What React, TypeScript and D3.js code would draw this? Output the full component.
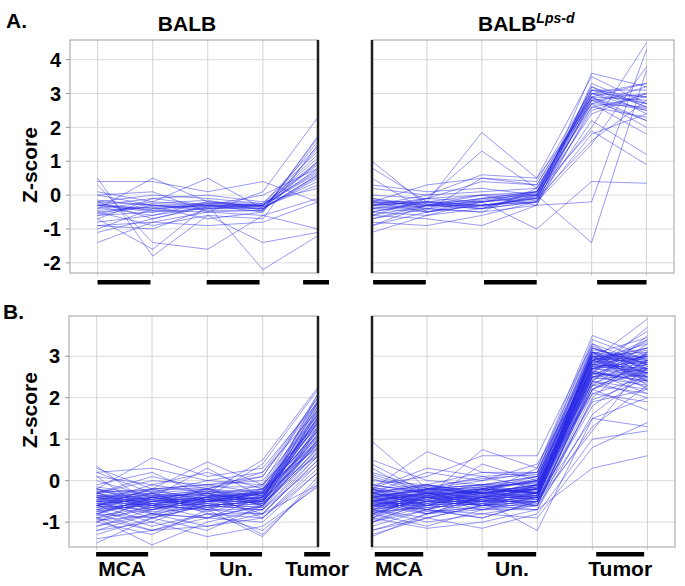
import React from "react";
import * as d3 from "d3";

// z-scores per gene, one row per line, one value per sample column
const balbTopProfiles: number[][] = [
  [-0.3, -0.4, -0.3, -0.35, 0.8],
  [-0.2, -0.3, -0.25, -0.3, 1.2],
  [-0.5, -0.35, -0.3, -0.4, 0.6],
  [0.5, -1.8, -0.6, -0.7, 1.5],
  [0.4, 0.4, 0.1, 0.4, -0.2],
  [-1.4, -0.8, -0.5, -0.45, 1.7],
  [-1.1, -0.7, -0.35, -0.3, 1.0],
  [-0.6, -0.5, -0.4, -0.4, 0.5],
  [-0.4, 0.5, -0.2, -0.3, 0.9],
  [-0.3, -0.1, -0.3, -0.5, 1.4],
  [0.0, -0.3, -0.35, -0.3, 0.7],
  [-0.8, -0.6, -0.2, -0.35, 0.3],
  [-0.25, -0.45, -0.5, 0.1, 2.3],
  [-0.7, -1.6, -0.3, -0.3, 1.1],
  [0.3, -1.4, -1.6, -0.6, -1.0],
  [-1.0, -0.4, -0.3, -2.2, -1.2],
  [-0.4, -0.2, 0.5, -0.4, 0.6],
  [-0.15, -0.3, -0.45, -0.45, 1.6],
  [-0.9, -0.8, -0.9, -0.8, -0.2],
  [-0.5, -0.9, -0.6, -1.4, -1.1],
  [-0.3, -0.5, -0.25, -0.3, 0.95],
  [-0.2, 0.0, -0.1, -0.25, 1.3],
  [-0.6, -0.3, -0.4, -0.35, 0.4],
  [0.1, -0.2, -0.3, 0.0, 0.8],
  [-0.35, -0.6, -0.35, -0.4, 0.55],
  [-0.45, -0.35, -0.7, -0.5, 1.75],
  [-0.7, -0.1, 0.0, -0.2, 0.2],
  [-0.2, -0.7, -0.3, -0.3, 0.65],
  [-0.55, -0.25, -0.15, -0.45, 1.0],
  [0.0, 0.1, -0.5, -0.6, -0.1],
  [-0.9, -1.0, -0.4, -0.3, 0.75],
  [-0.3, -0.45, -0.2, -0.25, 1.45],
];

const lpsdTopProfiles: number[][] = [
  [-0.3, -0.2, -0.2, -0.1, 2.9, 2.8],
  [-0.2, -0.3, 0.0, 0.1, 3.0, 2.5],
  [1.0, -0.3, -0.3, -0.2, 2.8, 3.0],
  [-0.5, -0.2, 1.85, 0.5, 2.7, 2.6],
  [-0.9, -0.5, -0.3, -0.1, 3.1, 2.9],
  [-1.1, -0.6, -0.4, -0.2, 3.6, 3.2],
  [-0.6, -0.3, -0.4, 0.1, 2.6, 2.3],
  [0.2, 0.0, 0.6, 0.5, 3.5, 2.7],
  [-0.3, -0.4, -0.2, -0.05, 2.0, 4.5],
  [-0.4, -0.1, 1.3, 0.2, 2.9, 3.3],
  [-0.1, -0.3, -0.1, 0.0, 3.2, 2.4],
  [-0.2, -0.5, -0.3, -0.2, 1.5, 3.8],
  [-0.7, -0.4, -0.5, -0.3, -0.2, 4.3],
  [0.8, -0.2, -0.3, -0.1, 2.8, 2.2],
  [-0.5, -0.6, -0.2, -1.0, 0.4, 0.35],
  [-0.3, -0.2, -0.4, 0.0, -1.4, 3.7],
  [-0.8, -0.9, -0.6, -0.2, 2.2, 1.2],
  [-0.2, 0.3, 0.5, 0.3, 3.0, 2.9],
  [-0.4, -0.3, -0.1, 0.1, 1.9, 0.9],
  [0.0, -0.1, -0.2, 0.0, 2.7, 3.2],
  [-0.6, -0.7, -0.9, -0.3, 3.3, 2.6],
  [-0.3, -0.1, 0.4, 0.3, 2.9, 2.0],
  [-0.2, -0.3, -0.3, -0.15, 2.5, 3.0],
  [-0.5, -0.2, -0.3, -0.1, 1.6, 2.8],
  [0.3, 0.1, 0.2, 0.0, 3.0, 2.7],
  [-0.1, -0.4, -0.5, 0.2, 2.8, 2.5],
  [-0.7, -0.3, -0.2, 0.1, 3.1, 3.1],
  [-0.2, -0.2, 0.0, -0.3, 2.6, 2.9],
  [-0.4, -0.5, -0.2, 0.0, 3.2, 2.6],
  [-0.3, 0.0, 0.1, 0.2, 2.9, 2.2],
  [-0.9, -0.3, -0.4, -0.2, 1.8, 2.4],
  [0.5, -0.5, -0.1, 0.1, 3.0, 3.3],
  [-0.15, -0.25, -0.35, -0.05, 2.7, 1.8],
  [-0.6, -0.1, 0.0, 0.0, 2.4, 3.0],
  [-0.35, -0.45, 0.5, 0.4, 3.1, 2.7],
  [-0.25, -0.35, -0.15, 0.05, 2.85, 2.55],
];

const balbBottomProfiles: number[][] = [
  [-0.4, -0.5, -0.4, -0.3, 1.2],
  [-0.6, -0.3, -0.5, -0.4, 1.6],
  [0.35, -0.6, -0.3, -0.2, 0.8],
  [-1.5, -0.9, -0.6, -0.5, 2.1],
  [-0.2, 0.55, 0.1, 0.3, 1.9],
  [-0.8, -1.2, -0.8, -0.9, 0.4],
  [-1.1, -0.7, -0.5, -0.6, 1.0],
  [-0.3, -0.2, 0.45, -0.1, 1.4],
  [-0.5, -0.6, -0.7, -1.35, 0.1],
  [-0.9, -1.55, -1.0, -0.7, 0.6],
  [0.1, -0.1, -0.3, 0.5, 2.25],
  [-0.7, -0.5, -0.2, -0.3, 1.7],
  [-0.4, -0.8, -0.9, -0.6, 0.9],
  [-1.2, -1.0, -1.35, -1.1, -0.15],
  [-0.6, -0.4, -0.6, -0.5, 1.3],
  [0.2, 0.3, 0.0, 0.2, 2.0],
  [-0.3, -0.7, -0.4, -0.8, 0.5],
  [-1.0, -0.6, -0.5, -0.3, 1.5],
  [-0.5, -0.3, -0.2, -0.4, 1.8],
  [-0.8, -0.9, -0.6, -0.7, 0.7],
  [-0.2, -0.5, -0.4, -0.2, 1.1],
  [-1.4, -1.2, -0.9, -1.0, 0.2],
  [-0.6, -0.2, -0.1, 0.0, 1.6],
  [0.0, -0.4, -0.6, -0.5, 0.9],
  [-0.9, -0.5, -0.3, -0.6, 1.3],
  [-0.3, 0.1, -0.2, 0.1, 2.0],
  [-0.7, -1.1, -0.8, -1.2, -0.1],
  [-0.5, -0.6, -0.5, -0.3, 1.2],
  [-1.1, -0.8, -1.1, -0.9, 0.3],
  [-0.4, -0.3, -0.7, -0.4, 1.4],
  [0.3, -0.2, -0.1, -0.3, 0.6],
  [-0.6, -0.7, -0.4, -0.5, 1.9],
  [-0.2, -0.4, -0.3, -0.6, 0.8],
  [-0.8, -0.4, -0.2, 0.2, 1.7],
  [-1.0, -1.3, -0.7, -0.8, 0.5],
  [-0.5, -0.1, 0.2, -0.2, 1.5],
  [-0.3, -0.5, -0.6, -0.7, 1.0],
  [-0.7, -0.6, -0.9, -0.4, 1.1],
  [-1.3, -0.9, -0.5, -0.5, 0.9],
  [-0.1, 0.2, -0.4, 0.4, 2.2],
  [-0.6, -0.8, -0.3, -0.9, 0.2],
  [-0.4, -0.2, -0.5, -0.2, 1.6],
  [-0.9, -0.7, -0.6, -1.3, 0.0],
  [0.2, -0.3, 0.0, -0.1, 1.3],
  [-0.5, -0.9, -1.2, -0.6, 0.7],
  [-0.8, -0.5, -0.4, -0.3, 1.8],
  [-0.2, -0.6, -0.2, -0.5, 1.0],
  [-1.0, -0.4, -0.7, -0.7, 0.4],
  [-0.6, -1.0, -0.5, -0.4, 1.4],
  [-0.3, 0.0, -0.1, 0.1, 1.9],
  [-0.7, -0.3, -0.8, -0.8, 0.6],
  [-0.4, -0.7, -0.4, -0.1, 2.1],
  [-1.2, -0.8, -0.9, -0.6, 0.8],
  [-0.5, -0.4, -0.3, -0.5, 1.2],
  [0.1, -0.8, -0.6, -0.3, 1.5],
  [-0.9, -1.2, -1.1, -0.8, -0.1],
  [-0.6, -0.2, -0.2, -0.6, 1.7],
  [-0.3, -0.6, -0.7, -0.2, 0.9],
  [-0.8, -0.4, 0.3, -0.4, 1.1],
  [-0.5, -0.5, -0.5, -0.4, 1.4],
  [-0.45, -0.55, -0.45, -0.35, 1.25],
  [-0.55, -0.45, -0.35, -0.45, 1.55],
  [-0.35, -0.65, -0.55, -0.25, 0.95],
  [-0.65, -0.35, -0.25, -0.55, 1.75],
  [-0.25, -0.45, -0.65, -0.35, 1.05],
  [-0.75, -0.55, -0.45, -0.25, 1.45],
  [-0.15, -0.35, -0.35, -0.45, 0.85],
  [-0.85, -0.65, -0.55, -0.65, 1.15],
  [-0.45, -0.25, -0.15, -0.15, 1.85],
  [-0.55, -0.75, -0.65, -0.55, 0.65],
  [-0.35, -0.45, -0.25, -0.35, 1.35],
  [-0.65, -0.55, -0.75, -0.45, 1.65],
  [-0.25, -0.25, -0.45, -0.25, 1.95],
  [-0.95, -0.85, -0.45, -0.55, 0.75],
  [-0.45, -0.35, -0.55, -0.65, 1.25],
  [-0.55, -0.65, -0.35, -0.35, 1.45],
  [-0.75, -0.45, -0.25, -0.45, 1.05],
  [-0.35, -0.55, -0.45, -0.55, 1.55],
  [-0.6, -0.4, -0.5, -0.3, 1.9],
  [-0.4, -0.6, -0.4, -0.5, 0.95],
];

const lpsdBottomProfiles: number[][] = [
  [-0.4, -0.3, -0.3, -0.2, 2.8, 2.7],
  [-0.6, -0.5, -0.4, -0.3, 3.0, 3.1],
  [0.95, -0.2, -0.3, -0.1, 2.5, 2.6],
  [-1.35, -0.8, -0.6, -0.5, 2.2, 2.9],
  [-0.2, 0.7, 0.2, 0.1, 3.2, 2.8],
  [-0.8, -1.1, -0.7, -0.4, 2.6, 2.4],
  [-0.5, -0.4, 0.75, 0.3, 3.5, 3.0],
  [-0.3, -0.6, -0.5, -1.2, 1.5, 1.3],
  [-1.0, -0.7, -0.4, -0.3, 2.9, 3.9],
  [-0.1, 0.1, 0.6, 0.6, 3.3, 2.5],
  [-0.7, -0.5, -0.6, -0.6, 2.4, 3.5],
  [-0.4, -0.2, -0.1, 0.0, 3.0, 2.2],
  [-0.9, -1.15, -1.0, -0.7, 0.3, 0.6],
  [-0.5, -0.3, -0.4, -0.2, 2.7, 3.2],
  [0.3, -0.4, -0.2, 0.0, 3.1, 2.9],
  [-0.6, -0.8, -0.5, -0.5, 1.8, 2.7],
  [-0.2, -0.1, -0.3, -0.1, 2.9, 2.4],
  [-1.2, -0.9, -1.15, -0.8, 1.0, 1.2],
  [-0.4, -0.6, -0.2, -0.3, 2.6, 3.7],
  [-0.7, -0.2, 0.0, 0.2, 3.2, 2.8],
  [-0.3, -0.5, -0.6, -0.4, 2.3, 2.1],
  [-0.8, -0.4, -0.3, -0.3, 2.8, 3.0],
  [0.1, -0.3, -0.5, -0.2, 3.0, 2.6],
  [-0.5, -0.7, -0.8, -0.6, 2.1, 2.5],
  [-1.0, -0.6, -0.4, -0.1, 2.9, 3.3],
  [-0.2, 0.3, 0.1, -0.2, 2.5, 2.7],
  [-0.6, -0.4, -0.2, 0.1, 3.1, 2.3],
  [-0.4, -0.8, -0.7, -0.5, 1.5, 2.0],
  [-0.9, -0.5, -0.5, -0.4, 2.7, 2.9],
  [-0.3, -0.2, -0.1, -0.3, 2.9, 2.6],
  [-0.7, -0.9, -0.6, -0.7, 2.0, 3.1],
  [0.0, -0.1, -0.3, 0.3, 3.3, 2.8],
  [-0.5, -0.3, -0.4, -0.2, 2.6, 2.4],
  [-1.1, -0.7, -0.9, -0.5, 2.2, 1.7],
  [-0.3, -0.5, 0.4, 0.0, 3.0, 3.0],
  [-0.6, -0.2, -0.3, -0.4, 2.8, 3.4],
  [-0.2, -0.6, -0.5, -0.1, 2.4, 2.2],
  [-0.8, -0.3, -0.2, -0.2, 3.1, 2.7],
  [-0.4, -0.4, -0.6, -0.5, 1.2, 2.9],
  [0.5, 0.0, -0.1, 0.1, 2.9, 2.5],
  [-0.5, -0.8, -0.4, -0.3, 2.7, 3.1],
  [-0.9, -0.4, -0.7, -0.6, 2.3, 2.6],
  [-0.3, -0.1, 0.2, 0.2, 3.4, 2.9],
  [-0.6, -0.6, -0.3, -0.4, 2.5, 2.3],
  [-0.1, -0.3, -0.5, -0.3, 2.8, 3.6],
  [-0.7, -1.0, -0.8, -0.9, 0.8, 1.4],
  [-0.4, -0.2, -0.2, 0.0, 3.0, 2.8],
  [-1.3, -0.9, -0.6, -0.4, 2.6, 2.5],
  [-0.2, -0.5, -0.3, -0.2, 2.9, 3.2],
  [-0.5, -0.3, -0.1, -0.1, 2.2, 2.7],
  [-0.8, -0.6, -0.5, -0.3, 3.1, 2.4],
  [-0.3, 0.2, 0.0, 0.4, 2.7, 3.0],
  [-0.6, -0.4, -0.6, -0.5, 1.9, 2.2],
  [0.2, -0.2, -0.3, -0.2, 2.8, 2.6],
  [-0.4, -0.7, -0.4, -0.6, 2.4, 3.3],
  [-1.0, -0.5, -0.2, -0.3, 3.0, 2.9],
  [-0.5, -0.1, -0.4, 0.0, 2.6, 2.1],
  [-0.2, -0.4, -0.5, -0.4, 3.2, 2.7],
  [-0.7, -0.3, -0.3, -0.1, 2.1, 1.9],
  [-0.3, -0.6, -0.7, -0.7, 1.6, 2.6],
  [-0.9, -0.2, -0.1, 0.1, 2.9, 3.0],
  [-0.4, -0.5, -0.4, -0.2, 2.5, 2.8],
  [0.4, -0.3, -0.2, -0.3, 2.7, 2.5],
  [-0.6, -0.7, -0.9, -0.5, 2.3, 3.1],
  [-0.3, -0.1, -0.3, -0.1, 3.0, 2.4],
  [-0.8, -0.4, -0.5, -0.4, 2.8, 2.7],
  [-0.5, -0.6, -0.2, 0.0, 2.6, 3.4],
  [-0.1, -0.3, -0.6, -0.3, 2.2, 2.9],
  [-1.2, -0.8, -0.4, -0.6, 1.3, 2.3],
  [-0.4, -0.2, 0.1, 0.2, 3.1, 2.6],
  [-0.7, -0.5, -0.3, -0.2, 2.9, 3.2],
  [-0.3, -0.4, -0.4, -0.4, 2.4, 2.0],
  [-0.6, -0.3, -0.6, -0.1, 2.7, 2.8],
  [-0.2, -0.7, -0.2, -0.3, 3.0, 2.5],
  [-0.5, -0.2, -0.5, -0.5, 2.5, 3.0],
  [-0.45, -0.35, -0.25, -0.15, 2.75, 2.65],
  [-0.55, -0.45, -0.35, -0.25, 2.95, 2.85],
  [-0.35, -0.55, -0.45, -0.35, 2.55, 3.05],
  [-0.65, -0.25, -0.15, -0.05, 3.05, 2.75],
  [-0.25, -0.15, -0.35, -0.45, 2.65, 2.35],
  [-0.75, -0.65, -0.55, -0.45, 2.85, 3.15],
  [-0.15, -0.45, -0.25, 0.05, 3.15, 2.95],
  [-0.85, -0.35, -0.45, -0.35, 2.45, 2.55],
  [0.15, -0.25, -0.35, -0.15, 2.75, 3.35],
  [-0.45, -0.75, -0.65, -0.55, 1.95, 2.45],
  [-0.55, -0.15, 0.05, 0.15, 3.25, 2.65],
  [-0.35, -0.35, -0.25, -0.25, 2.85, 2.95],
  [-0.95, -0.55, -0.35, -0.15, 2.65, 2.25],
  [-0.25, -0.25, -0.45, -0.35, 3.05, 3.45],
  [-0.65, -0.45, -0.15, -0.05, 2.35, 2.75],
  [-0.45, -0.65, -0.55, -0.45, 2.75, 2.85],
  [0.05, -0.35, -0.25, 0.0, 2.95, 2.45],
  [-0.75, -0.35, -0.55, -0.35, 2.55, 3.05],
  [-0.35, -0.25, -0.15, -0.3, 3.1, 2.85],
  [-0.55, -0.55, -0.45, -0.2, 2.7, 2.6],
];

const topTicks = [-2, -1, 0, 1, 2, 3, 4];
const bottomTicks = [-1, 0, 1, 2, 3];
const groupLabels = ["MCA", "Un.", "Tumor"];

const FONT = "'Liberation Sans', Arial, sans-serif";
const LINE = "#2b2be6";

type Span = [number, number];

type PanelProps = {
  profiles: number[][];
  xDomain: [number, number];
  xRange: [number, number];
  yDomain: [number, number];
  yRange: [number, number];
  ticks: number[];
  axisLabels: boolean;
  thick: "left" | "right";
  spans: Span[];
  barY: number;
  textY?: number;
};

const Panel = (p: PanelProps) => {
  const x = d3.scaleLinear().domain(p.xDomain).range(p.xRange);
  const y = d3.scaleLinear().domain(p.yDomain).range(p.yRange);
  const n = p.profiles[0].length;
  const cols = d3.range(n);
  const line = d3
    .line<number>()
    .x((_, i) => x(i))
    .y((v) => y(v));
  const [x0, x1] = p.xRange;
  const [yb, yt] = p.yRange;
  const thickX = p.thick === "left" ? x0 : x1;

  return (
    <g>
      {/* grid */}
      {p.ticks.map((t) => (
        <line key={"h" + t} x1={x0} x2={x1} y1={y(t)} y2={y(t)} stroke="#dcdcdc" strokeWidth={1} />
      ))}
      {cols.map((c) => (
        <line key={"v" + c} x1={x(c)} x2={x(c)} y1={yt} y2={yb} stroke="#d4d4d4" strokeWidth={1} />
      ))}
      {cols.map((c) => (
        <line key={"xt" + c} x1={x(c)} x2={x(c)} y1={yb} y2={yb + 3} stroke="#cfcfcf" strokeWidth={1} />
      ))}
      {/* frame */}
      <rect x={x0} y={yt} width={x1 - x0} height={yb - yt} fill="none" stroke="#a0a0a0" strokeWidth={1} />
      {/* profiles */}
      <g fill="none" stroke={LINE} strokeWidth={0.8} strokeOpacity={0.6}>
        {p.profiles.map((row, i) => (
          <path key={i} d={line(row) || ""} />
        ))}
      </g>
      <line x1={thickX} x2={thickX} y1={yt} y2={yb} stroke="#1e1e1e" strokeWidth={2.5} />
      {p.axisLabels &&
        p.ticks.map((t) => (
          <g key={"yl" + t}>
            <line x1={x0 - 4} x2={x0} y1={y(t)} y2={y(t)} stroke="#999" />
            <text
              x={x0 - 9}
              y={y(t)}
              dy="0.36em"
              textAnchor="end"
              fontFamily={FONT}
              fontWeight="bold"
              fontSize={20}
            >
              {t}
            </text>
          </g>
        ))}
      {p.spans.map((s, i) => (
        <g key={"g" + i}>
          <rect x={x(s[0])} y={p.barY} width={x(s[1]) - x(s[0])} height={4.5} fill="#000" />
          {p.textY !== undefined && (
            <text
              x={(x(s[0]) + x(s[1])) / 2}
              y={p.textY}
              textAnchor="middle"
              fontFamily={FONT}
              fontWeight="bold"
              fontSize={21}
            >
              {groupLabels[i]}
            </text>
          )}
        </g>
      ))}
    </g>
  );
};

const Label = ({ x, y, text, size = 20 }: { x: number; y: number; text: string; size?: number }) => (
  <text x={x} y={y} fontFamily={FONT} fontWeight="bold" fontSize={size}>
    {text}
  </text>
);

const ZLabel = ({ cy }: { cy: number }) => (
  <text
    transform={`translate(37,${cy}) rotate(-90)`}
    textAnchor="middle"
    fontFamily={FONT}
    fontWeight="bold"
    fontSize={21}
  >
    Z-score
  </text>
);

export default function App() {
  return (
    <svg
      width={685}
      height={586}
      style={{ position: "absolute", left: 0, top: 0, background: "#fff" }}
    >
      <Label x={6} y={28} text="A." size={21} />
      <Label x={3} y={319} text="B." size={21} />
      <text x={187} y={31} textAnchor="middle" fontFamily={FONT} fontWeight="bold" fontSize={21}>
        BALB
      </text>
      <text x={478} y={31} fontFamily={FONT} fontWeight="bold" fontSize={21}>
        BALB
        <tspan dy={-8} fontSize={14} fontStyle="italic">
          Lps-d
        </tspan>
      </text>
      <ZLabel cy={165} />
      <ZLabel cy={410} />

      <Panel
        profiles={balbTopProfiles}
        xDomain={[-0.5, 4]}
        xRange={[70, 318]}
        yDomain={[-2.3, 4.58]}
        yRange={[273, 40]}
        ticks={topTicks}
        axisLabels
        thick="right"
        spans={[[0, 0.96], [1.98, 2.94], [3.73, 4.2]]}
        barY={280}
      />
      <Panel
        profiles={lpsdTopProfiles}
        xDomain={[0, 5.5]}
        xRange={[372, 674]}
        yDomain={[-2.3, 4.58]}
        yRange={[273, 40]}
        ticks={topTicks}
        axisLabels={false}
        thick="left"
        spans={[[0.02, 0.98], [2.04, 3.0], [4.1, 5.0]]}
        barY={280}
      />
      <Panel
        profiles={balbBottomProfiles}
        xDomain={[-0.5, 4]}
        xRange={[69, 318]}
        yDomain={[-1.6, 3.97]}
        yRange={[547, 316]}
        ticks={bottomTicks}
        axisLabels
        thick="right"
        spans={[[-0.01, 0.93], [2.05, 2.99], [3.75, 4.22]]}
        barY={552}
        textY={576}
      />
      <Panel
        profiles={lpsdBottomProfiles}
        xDomain={[0, 5.5]}
        xRange={[372, 675]}
        yDomain={[-1.6, 3.97]}
        yRange={[547, 316]}
        ticks={bottomTicks}
        axisLabels={false}
        thick="left"
        spans={[[0.05, 0.93], [2.1, 2.98], [4.07, 4.94]]}
        barY={552}
        textY={576}
      />
    </svg>
  );
}
